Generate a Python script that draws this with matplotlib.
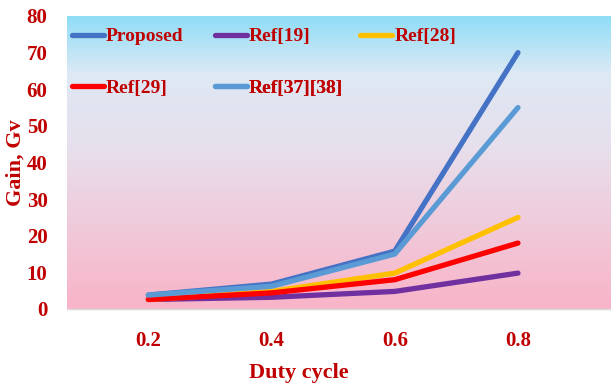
import numpy as np
import matplotlib.pyplot as plt
from matplotlib.colors import LinearSegmentedColormap

# Datos
duty = [0.2, 0.4, 0.6, 0.8]
proposed = [3.8, 6.8, 15.8, 70]
ref19 = [2.6, 3.2, 4.8, 9.8]
ref28 = [2.6, 4.8, 9.8, 25]
ref29 = [2.6, 4.4, 8.0, 18]
ref3738 = [3.8, 6.2, 15.0, 55]

series = [
    ('Proposed', proposed, '#4472C4'),
    ('Ref[19]', ref19, '#7030A0'),
    ('Ref[28]', ref28, '#FFC000'),
    ('Ref[29]', ref29, '#FF0000'),
    ('Ref[37][38]', ref3738, '#5B9BD5'),
]

txtclr = '#C00000'
plt.rcParams['font.family'] = ['Liberation Serif', 'DejaVu Serif']
plt.rcParams['font.weight'] = 'bold'

fig = plt.figure(figsize=(6.11, 3.86), dpi=100)
ax = fig.add_axes([67 / 611, 1 - 309 / 386, 544 / 611, 293 / 386])

xmin, xmax = 0.068, 0.951
ymin, ymax = 0, 80

# Fondo degradado
cmap = LinearSegmentedColormap.from_list(
    'bg', [(0.0, '#F9B4C8'), (0.55, '#E7DFEC'), (0.8, '#DDE9F4'), (1.0, '#8EDDF7')])
grad = np.linspace(0, 1, 256).reshape(-1, 1)
ax.imshow(grad, cmap=cmap, origin='lower', aspect='auto',
          extent=[xmin, xmax, ymin, ymax], zorder=0)

lines = {}
for label, vals, clr in series:
    ln, = ax.plot(duty, vals, color=clr, label=label, linewidth=3.8,
                  solid_capstyle='round', solid_joinstyle='round', zorder=3)
    lines[label] = ln

ax.set_xlim(xmin, xmax)
ax.set_ylim(ymin, ymax)

# Eje X
ax.set_xticks(duty)
ax.set_xticklabels(['0.2', '0.4', '0.6', '0.8'])
ax.set_xlabel('Duty cycle', fontsize=16, color=txtclr, fontweight='bold')
ax.xaxis.set_label_coords(0.426, -0.185)

# Eje Y
ax.set_yticks(np.arange(0, 81, 10))
ax.set_ylabel('Gain, Gv', fontsize=16, color=txtclr, fontweight='bold')
ax.yaxis.set_label_coords(-0.076, 0.5)

ax.tick_params(axis='both', length=0, labelsize=15, labelcolor=txtclr)
ax.tick_params(axis='x', pad=16)
ax.tick_params(axis='y', pad=14)

for s in ['top', 'right', 'left']:
    ax.spines[s].set_visible(False)
ax.spines['bottom'].set_color('#D9D9D9')
ax.spines['bottom'].set_linewidth(1.0)

# Leyenda: una entrada por posición (como en Excel)
pos_leg = {
    'Proposed': (0.009, 0.93),
    'Ref[19]': (0.272, 0.93),
    'Ref[28]': (0.539, 0.93),
    'Ref[29]': (0.009, 0.755),
    'Ref[37][38]': (0.272, 0.755),
}
for label, (lx, ly) in pos_leg.items():
    leg = ax.legend([lines[label]], [label], loc='center left',
                    bbox_to_anchor=(lx, ly), borderpad=0, borderaxespad=0,
                    frameon=False, handlelength=1.65, handletextpad=0.1,
                    prop={'size': 14, 'weight': 'bold'})
    leg.get_texts()[0].set_color(txtclr)
    ax.add_artist(leg)

plt.savefig('out.png', dpi=100)
